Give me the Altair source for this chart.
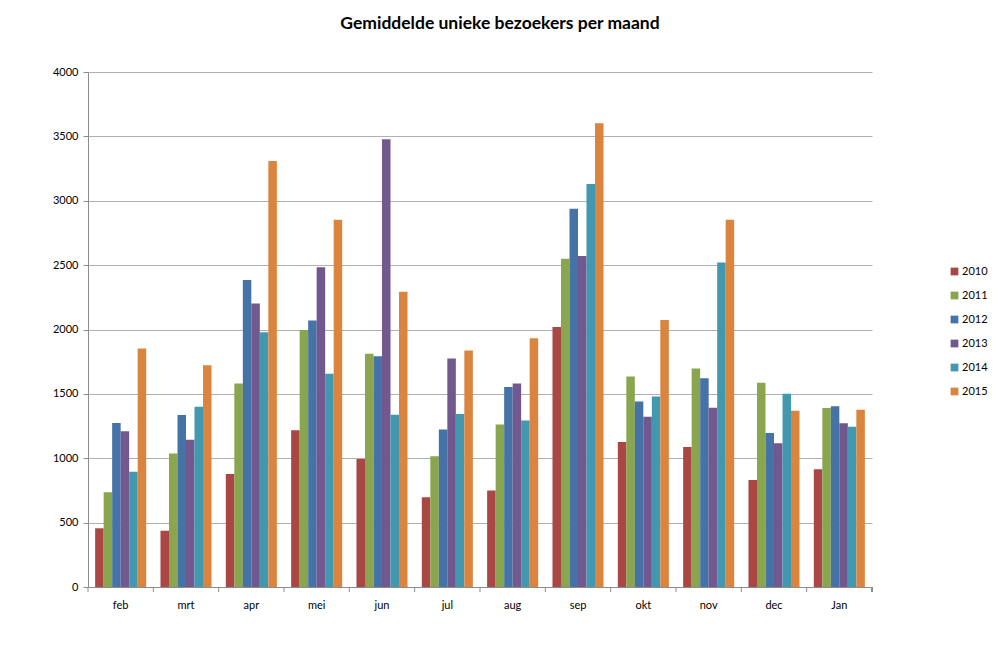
import altair as alt
import pandas as pd

months = ["feb", "mrt", "apr", "mei", "jun", "jul", "aug", "sep", "okt", "nov", "dec", "Jan"]
years = ["2010", "2011", "2012", "2013", "2014", "2015"]
v2010 = [456, 437, 878, 1217, 995, 697, 749, 2020, 1126, 1088, 832, 914]
v2011 = [736, 1036, 1581, 1997, 1811, 1015, 1263, 2550, 1635, 1697, 1586, 1390]
v2012 = [1274, 1336, 2384, 2069, 1793, 1224, 1553, 2937, 1441, 1622, 1196, 1403]
v2013 = [1209, 1144, 2201, 2483, 3477, 1775, 1581, 2570, 1323, 1392, 1116, 1271]
v2014 = [896, 1400, 1979, 1656, 1338, 1343, 1294, 3131, 1480, 2521, 1501, 1245]
v2015 = [1852, 1723, 3309, 2852, 2294, 1837, 1932, 3601, 2074, 2852, 1369, 1377]
colors = ["#AA4643", "#89A54E", "#4572A7", "#71588F", "#4198AF", "#DB843D"]
series = [v2010, v2011, v2012, v2013, v2014, v2015]

rows = []
for y, vals in zip(years, series):
    for m, v in zip(months, vals):
        rows.append({"month": m, "year": y, "value": v})
df = pd.DataFrame(rows)
mdf = pd.DataFrame({"month": months})

FONT = "Lato"
W, H = 784, 515

xaxis = alt.Axis(title=None, labelAngle=0, ticks=False, domainColor="#8c8c8c",
                 labelFontSize=11, labelPadding=12, labelColor="#000", labelFont=FONT)
xscale = alt.Scale(paddingInner=0, paddingOuter=0)

bars = alt.Chart(df).mark_bar().encode(
    x=alt.X("month:N", sort=months, scale=xscale, axis=xaxis),
    xOffset=alt.XOffset("year:N", scale=alt.Scale(paddingOuter=0.84, paddingInner=0)),
    y=alt.Y("value:Q", scale=alt.Scale(domain=[0, 4000], nice=False),
            axis=alt.Axis(values=list(range(0, 4001, 500)), format="d", title=None,
                          gridColor="#b0b0b0", domainColor="#8c8c8c", tickColor="#8c8c8c",
                          tickSize=5, labelFontSize=11, labelColor="#000", labelFont=FONT,
                          labelPadding=5)),
    color=alt.Color("year:N", scale=alt.Scale(domain=years, range=colors),
                    legend=alt.Legend(title=None, orient="none", legendX=861, legendY=194,
                                      symbolType="square", symbolSize=60, labelFontSize=11,
                                      labelFont=FONT, rowPadding=12, symbolStrokeWidth=0,
                                      labelOffset=2, labelColor="#000")),
)

ticks = alt.Chart(mdf).mark_rule(color="#8c8c8c").encode(
    x=alt.X("month:N", sort=months, bandPosition=0, scale=xscale, axis=xaxis),
    y=alt.value(H), y2=alt.value(H + 5),
)
endtick = alt.Chart(mdf).mark_rule(color="#8c8c8c").encode(
    x=alt.value(W), y=alt.value(H), y2=alt.value(H + 5),
)

chart = alt.layer(bars, ticks, endtick).properties(
    width=W, height=H,
    padding={"left": 80, "top": 64, "right": 120, "bottom": 60},
    autosize=alt.AutoSizeParams(type="none"),
    title=alt.TitleParams("Gemiddelde unieke bezoekers per maand", font=FONT, fontSize=17.5,
                          fontWeight="bold", color="#000", anchor="middle", dx=20, offset=34),
).configure_view(stroke=None)

chart.save("out.html", embed_options={"renderer": "svg", "actions": False})
